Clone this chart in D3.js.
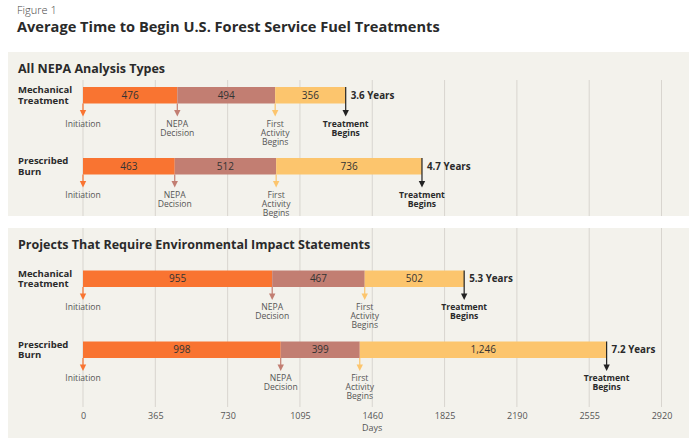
<!DOCTYPE html>
<html>
<head>
<meta charset="utf-8">
<script src="https://cdn.jsdelivr.net/npm/d3@7"></script>
<style>
  html, body { margin: 0; padding: 0; background: #fff; }
  svg { display: block; font-family: 'Open Sans', sans-serif; }
</style>
</head>
<body>
<div id="chart"></div>
<script>
// values
const panelTitles = ['All NEPA Analysis Types', 'Projects That Require Environmental Impact Statements'];
const treatments = ['Mechanical Treatment', 'Prescribed Burn'];
const stageNames = ['Initiation to NEPA decision', 'NEPA decision to first activity', 'First activity to treatment'];
const allNepaDays = [[476, 494, 356], [463, 512, 736]];
const eisDays = [[955, 467, 502], [998, 399, 1246]];
const allNepaYears = [3.6, 4.7];
const eisYears = [5.3, 7.2];
const markerNames = ['Initiation', 'NEPA Decision', 'First Activity Begins', 'Treatment Begins'];
const dayTicks = [0, 365, 730, 1095, 1460, 1825, 2190, 2555, 2920];

const segColors = ['#f97431', '#c27e72', '#fcc56d'];
const markerLines = {
  'Initiation': ['Initiation'],
  'NEPA Decision': ['NEPA', 'Decision'],
  'First Activity Begins': ['First', 'Activity', 'Begins'],
  'Treatment Begins': ['Treatment', 'Begins']
};
const rowLines = {
  'Mechanical Treatment': ['Mechanical', 'Treatment'],
  'Prescribed Burn': ['Prescribed', 'Burn']
};

const W = 700, H = 443;
const svg = d3.select('#chart').append('svg').attr('width', W).attr('height', H);

const x = d3.scaleLinear().domain([0, 2920]).range([83, 661.5]);
const colour = d3.scaleOrdinal().domain(stageNames).range(segColors);
const barH = 16.5;

svg.append('text').attr('x', 17).attr('y', 14)
  .style('font-size', '11px').style('font-weight', 300).style('fill', '#444').text('Figure 1');
svg.append('text').attr('x', 17).attr('y', 32)
  .style('font-size', '14.6px').style('font-weight', 700).style('fill', '#2a2a2a')
  .text('Average Time to Begin U.S. Forest Service Fuel Treatments');

const panels = [
  { title: panelTitles[0], days: allNepaDays, years: allNepaYears, top: 52, bottom: 216, barTop: 87, gridTop: 80, gridBottom: 216 },
  { title: panelTitles[1], days: eisDays, years: eisYears, top: 228, bottom: 438, barTop: 270.5, gridTop: 228, gridBottom: 407 }
];

panels.forEach((p, pi) => {
  const g = svg.append('g');
  g.append('rect').attr('x', 8).attr('y', p.top).attr('width', 681).attr('height', p.bottom - p.top)
    .attr('fill', '#f3f2ec');

  g.append('g').selectAll('line').data(dayTicks).join('line')
    .attr('x1', d => x(d)).attr('x2', d => x(d))
    .attr('y1', p.gridTop).attr('y2', p.gridBottom)
    .attr('stroke', '#d8d5cf').attr('stroke-width', 1);

  g.append('text').attr('x', 18).attr('y', p.top + 21)
    .style('font-size', '12.5px').style('font-weight', 700).style('fill', '#2a2a2a')
    .text(p.title);

  const y = d3.scaleBand().domain(treatments).range([p.barTop, p.barTop + 142]);

  treatments.forEach((t, ti) => {
    const vals = p.days[ti];
    const starts = d3.cumsum([0, ...vals]);
    const y0 = y(t);
    const segs = vals.map((v, i) => ({ v, s: starts[i], e: starts[i + 1], name: stageNames[i] }));

    // row label
    g.append('text').attr('x', 18).attr('y', y0 + 6)
      .style('font-size', '9.5px').style('font-weight', 700).style('fill', '#2a2a2a')
      .selectAll('tspan').data(rowLines[t]).join('tspan')
      .attr('x', 18).attr('dy', (d, i) => i ? 10.5 : 0).text(d => d);

    g.append('g').selectAll('rect').data(segs).join('rect')
      .attr('x', d => x(d.s)).attr('y', y0)
      .attr('width', d => x(d.e) - x(d.s)).attr('height', barH)
      .attr('fill', d => colour(d.name));

    g.append('g').selectAll('text').data(segs).join('text')
      .attr('x', d => (x(d.s) + x(d.e)) / 2).attr('y', y0 + barH / 2 + 3.5)
      .attr('text-anchor', 'middle')
      .style('font-size', '10px').style('fill', '#333')
      .text(d => d3.format(',')(d.v));

    // milestone arrows
    const marks = markerNames.map((m, i) => ({
      name: m,
      at: starts[i],
      col: i < 3 ? segColors[i] : '#222',
      fromTop: i === 3
    }));
    const tipY = y0 + barH + 13;
    const mg = g.append('g').selectAll('g').data(marks).join('g');
    mg.append('line')
      .attr('x1', d => x(d.at)).attr('x2', d => x(d.at))
      .attr('y1', d => d.fromTop ? y0 : y0 + barH).attr('y2', tipY - 4)
      .attr('stroke', d => d.col).attr('stroke-width', 1.2);
    mg.append('path')
      .attr('d', d => `M${x(d.at) - 3.2},${tipY - 6.5}L${x(d.at) + 3.2},${tipY - 6.5}L${x(d.at)},${tipY}Z`)
      .attr('fill', d => d.col);
    mg.append('text')
      .attr('text-anchor', 'middle')
      .attr('y', y0 + barH + 23)
      .style('font-size', '8.6px')
      .style('font-weight', d => d.fromTop ? 700 : 400)
      .style('fill', d => d.fromTop ? '#2a2a2a' : '#555')
      .selectAll('tspan').data(d => markerLines[d.name].map(l => ({ l, at: d.at }))).join('tspan')
      .attr('x', d => x(d.at)).attr('dy', (d, i) => i ? 9.2 : 0).text(d => d.l);

    g.append('text').attr('x', x(starts[3]) + 5).attr('y', y0 + barH / 2 + 3.5)
      .style('font-size', '9.8px').style('font-weight', 700).style('fill', '#2a2a2a')
      .text(`${p.years[ti]} Years`);
  });

  if (pi === 1) {
    const ax = g.append('g').attr('transform', 'translate(0,413)')
      .call(d3.axisBottom(x).tickValues(dayTicks).tickSize(0).tickPadding(0).tickFormat(d3.format('d')));
    ax.select('.domain').remove();
    ax.selectAll('text').style('font-size', '9px').style('fill', '#555').style('font-family', "'Open Sans', sans-serif");
    g.append('text').attr('x', (x.range()[0] + x.range()[1]) / 2).attr('y', 431)
      .attr('text-anchor', 'middle').style('font-size', '9px').style('fill', '#555').text('Days');
  }
});
</script>
</body>
</html>
